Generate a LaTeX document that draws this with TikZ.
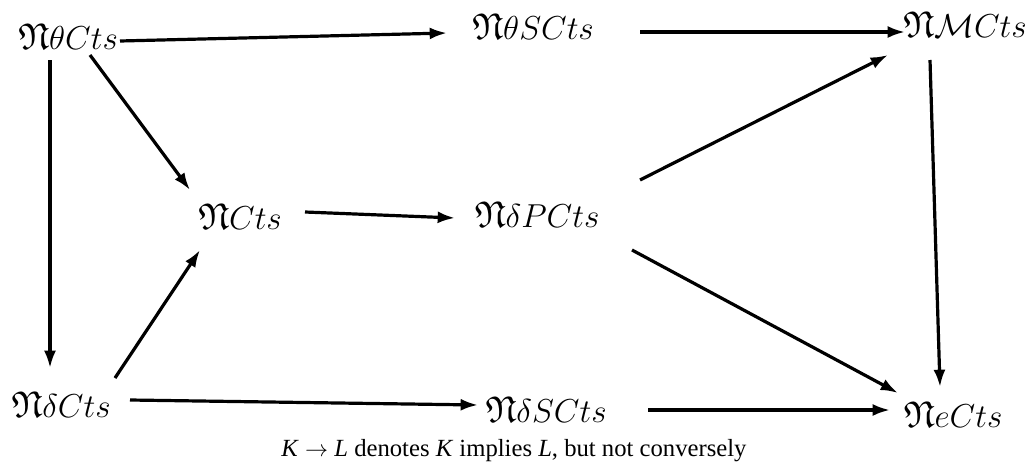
\documentclass[tikz,border=0pt]{standalone}
\usepackage{amssymb}
\usepackage{fontspec}
\newfontfamily\capfont{Liberation Serif}
\usetikzlibrary{arrows.meta,calc}
\tikzset{
  lbl/.style={inner sep=1pt,font=\fontsize{28}{33}\selectfont},
  arr/.style={line width=2.4pt,-{Latex[length=13pt,width=9pt]}},
}
\begin{document}
\begin{tikzpicture}[x=0.75pt,y=-0.75pt]
\useasboundingbox (0,0) rectangle (1030,468);
\node[lbl] (tC) at (68,37) {$\mathfrak{N}\theta Cts$};
\node[lbl] (tS) at (533,27) {$\mathfrak{N}\theta SCts$};
\node[lbl] (MC) at (965,25) {$\mathfrak{N}\mathcal{M}Cts$};
\node[lbl] (C) at (240,217) {$\mathfrak{N}Cts$};
\node[lbl] (dP) at (537,215) {$\mathfrak{N}\delta PCts$};
\node[lbl] (dC) at (61,405) {$\mathfrak{N}\delta Cts$};
\node[lbl] (dS) at (546,410) {$\mathfrak{N}\delta SCts$};
\node[lbl] (eC) at (953,415) {$\mathfrak{N}eCts$};
\node[font=\capfont\fontsize{18.5}{22}\selectfont] (cap) at (514,451) {\textit{K} $\rightarrow$ \textit{L} denotes \textit{K} implies \textit{L}, but not conversely};
\draw[arr] ($(tC)+(52,4)$) -- ($(tS)+(-86,6)$);
\draw[arr] ($(tS)+(107,5)$) -- ($(MC)+(-60,7)$);
\draw[arr] ($(tC)+(22,18)$) -- ($(C)+(-50,-27)$);
\draw[arr] ($(tC)+(-18,23)$) -- ($(dC)+(-11,-37)$);
\draw[arr] ($(dC)+(54,-27)$) -- ($(C)+(-40,33)$);
\draw[arr] ($(C)+(65,-5)$) -- ($(dP)+(-82,3)$);
\draw[arr] ($(dP)+(103,-35)$) -- ($(MC)+(-77,30)$);
\draw[arr] ($(dP)+(95,35)$) -- ($(eC)+(-55,-22)$);
\draw[arr] ($(MC)+(-35,35)$) -- ($(eC)+(-13,-28)$);
\draw[arr] ($(dC)+(69,-5)$) -- ($(dS)+(-68,-5)$);
\draw[arr] ($(dS)+(102,0)$) -- ($(eC)+(-63,-5)$);
\end{tikzpicture}
\end{document}
